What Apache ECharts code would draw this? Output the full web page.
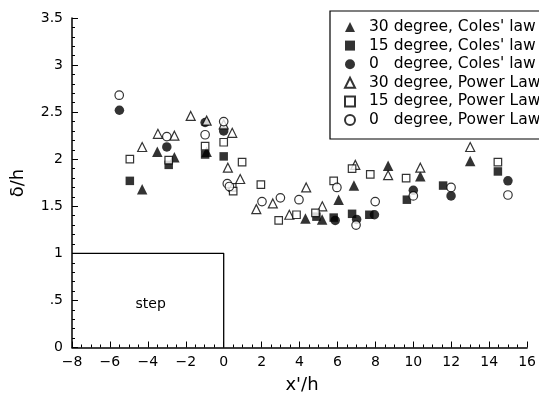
<!DOCTYPE html>
<html><head><meta charset="utf-8">
<script src="https://cdn.jsdelivr.net/npm/echarts@6/dist/echarts.min.js"></script>
<style>html,body{margin:0;padding:0;background:#fff}#c{width:539px;height:395px}</style>
</head><body><div id="c"></div>
<script>
// ---- data ----
const seriesNames = [
  "30 degree, Coles' law",
  "15 degree, Coles' law",
  "0   degree, Coles' law",
  "30 degree, Power Law",
  "15 degree, Power Law",
  "0   degree, Power Law"
];
const coles30 = [[-4.3,1.68],[-3.5,2.08],[-2.6,2.02],[-0.9,2.08],[4.31,1.37],[5.19,1.36],[6.06,1.57],[6.87,1.72],[8.67,1.93],[10.37,1.82],[13.0,1.98]];
const coles15 = [[-4.95,1.77],[-2.9,1.94],[-0.98,2.05],[0,2.03],[4.89,1.39],[5.8,1.38],[6.77,1.42],[7.68,1.41],[9.66,1.57],[11.57,1.72],[14.46,1.87]];
const coles0  = [[-5.5,2.52],[-3.0,2.13],[-0.98,2.39],[0,2.30],[5.88,1.35],[7.01,1.36],[7.95,1.41],[10.0,1.67],[11.99,1.61],[14.99,1.77]];
const power30 = [[-4.3,2.13],[-3.47,2.27],[-2.6,2.25],[-1.74,2.46],[-0.9,2.41],[0,2.37],[0.45,2.28],[0.22,1.91],[0.87,1.79],[1.72,1.47],[2.59,1.53],[3.46,1.41],[4.35,1.70],[5.2,1.50],[6.94,1.94],[8.67,1.83],[10.37,1.91],[13.0,2.13]];
const power15 = [[-4.95,2.0],[-2.9,1.99],[-0.98,2.14],[0,2.18],[0.97,1.97],[0.45,1.70],[0.5,1.66],[1.96,1.73],[2.9,1.35],[3.84,1.41],[4.84,1.43],[5.8,1.77],[6.77,1.90],[7.73,1.84],[9.62,1.80],[14.46,1.97]];
const power0  = [[-5.51,2.68],[-3.0,2.24],[-0.98,2.26],[0,2.40],[0.19,1.74],[0.3,1.71],[2.02,1.55],[2.99,1.59],[3.97,1.57],[5.97,1.70],[6.98,1.30],[7.99,1.55],[10.0,1.61],[11.99,1.70],[14.99,1.62]];
const stepX = [-8, 0, 0];
const stepY = [1, 1, 0];
const stepLabel = "step";
const stepLabelPos = [-3.85, 0.46];
const xTicks = [-8,-6,-4,-2,0,2,4,6,8,10,12,14,16];
const yTicks = [0,0.5,1,1.5,2,2.5,3,3.5];
const xTitle = "x'/h";
const yTitle = "\u03b4/h";
// ---- chart ----
const FONT = "DejaVu Sans";
const filled = {color:'#000', borderColor:'#000', borderWidth:0};
const open = {color:'#fff', borderColor:'#000', borderWidth:1.2};
function sc(name, data, symbol, size, style){
  return {name, type:'scatter', data, symbol, symbolSize:size, itemStyle:style, z:3, emphasis:{disabled:true}};
}
const chart = echarts.init(document.getElementById('c'), null, {renderer:'canvas'});
chart.setOption({
  animation:false,
  backgroundColor:'#fff',
  textStyle:{fontFamily:FONT},
  grid:{left:72, right:8, top:18, bottom:47.5},
  xAxis:{type:'value', min:xTicks[0], max:xTicks[xTicks.length-1], interval:2,
    axisLine:{onZero:false, lineStyle:{color:'#000', width:1.5}},
    axisTick:{inside:true, length:6, lineStyle:{color:'#000', width:1}},
    minorTick:{show:true, splitNumber:4, length:3, lineStyle:{color:'#000', width:1}},
    splitLine:{show:false},
    axisLabel:{color:'#000', fontSize:14, fontFamily:FONT, margin:8,
      formatter:v=> v<0 ? '\u2212'+Math.abs(v) : String(v)}},
  yAxis:{type:'value', min:yTicks[0], max:yTicks[yTicks.length-1], interval:0.5,
    axisLine:{show:true, onZero:false, lineStyle:{color:'#000', width:1.5}},
    axisTick:{show:true, inside:true, length:6, lineStyle:{color:'#000', width:1}},
    minorTick:{show:true, splitNumber:5, length:3, lineStyle:{color:'#000', width:1}},
    splitLine:{show:false},
    axisLabel:{color:'#000', fontSize:14, fontFamily:FONT, margin:9,
      formatter:v=> v===0 ? '0' : (v<1 ? String(v).replace(/^0/,'') : String(v))}},
  legend:{
    orient:'vertical', left:330, top:11,
    data:seriesNames,
    backgroundColor:'#fff', borderColor:'#000', borderWidth:1.2,
    padding:[8,20,11,14], itemGap:2.6, itemWidth:10, itemHeight:10, itemTextGap:6,
    textStyle:{color:'#000', fontSize:15.5, fontFamily:FONT, lineHeight:16, padding:[0,0,0,9]},
    selectedMode:false
  },
  graphic:[
    {type:'text', x:18, y:183, rotation:Math.PI/2,
      style:{text:yTitle, fill:'#000', font:'18px "DejaVu Sans"', align:'center', verticalAlign:'middle'}},
    {type:'text', x:302, y:385,
      style:{text:xTitle, fill:'#000', font:'18px "DejaVu Sans"', align:'center', verticalAlign:'middle'}}
  ],
  series:[
    sc(seriesNames[0], coles30, 'triangle', 10.5, filled),
    sc(seriesNames[1], coles15, 'rect', 8.5, filled),
    sc(seriesNames[2], coles0, 'circle', 9.5, filled),
    sc(seriesNames[3], power30, 'triangle', 9, open),
    sc(seriesNames[4], power15, 'rect', 7.5, open),
    sc(seriesNames[5], power0, 'circle', 8.5, open),
    {type:'line', data:stepX.map((x,i)=>[x,stepY[i]]), symbol:'none', silent:true,
      lineStyle:{color:'#000', width:1.3}, z:2,
      markPoint:{symbol:'circle', symbolSize:0, silent:true,
        data:[{coord:stepLabelPos, label:{show:true, formatter:stepLabel, color:'#000', fontSize:14, fontFamily:FONT}}]}}
  ]
});
</script></body></html>
